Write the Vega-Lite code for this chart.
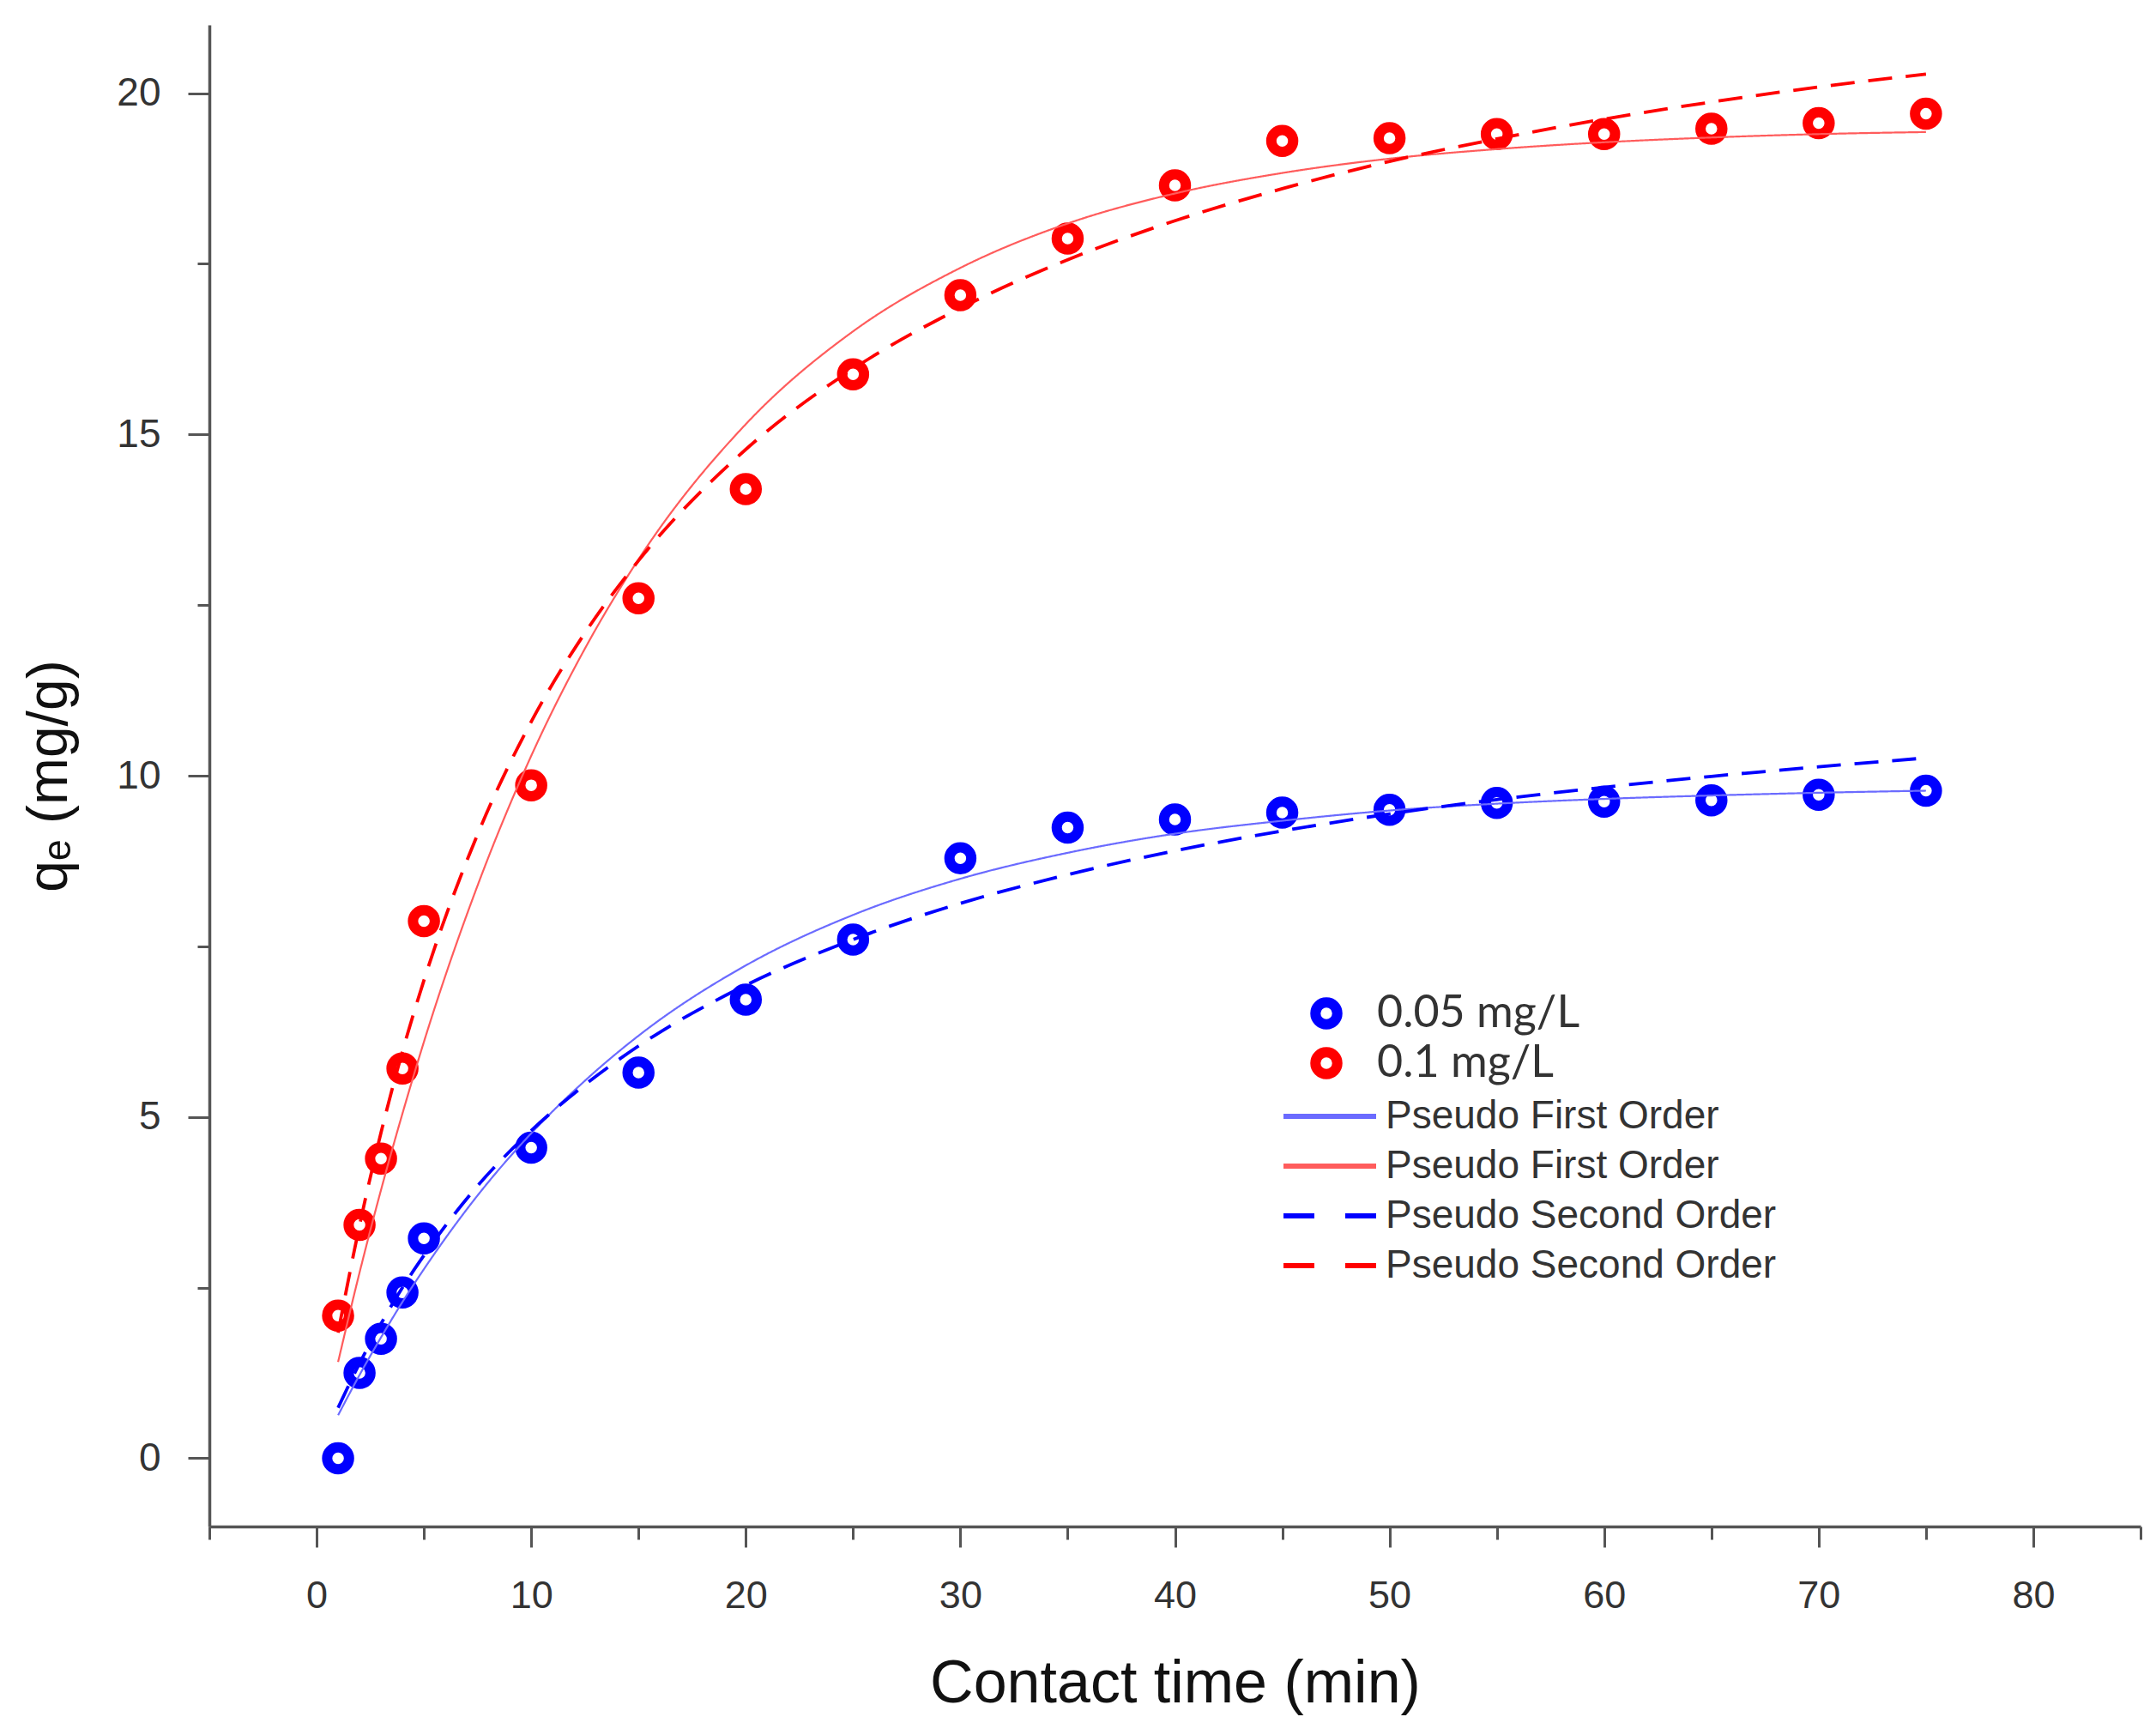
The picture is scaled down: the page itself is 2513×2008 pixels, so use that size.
{
  "$schema": "https://vega.github.io/schema/vega-lite/v6.json",
  "width": 2251,
  "height": 1750,
  "autosize": {"type": "none"},
  "padding": {"left": 244, "top": 29, "right": 18, "bottom": 229},
  "background": "white",
  "config": {
    "view": {"stroke": null},
    "axis": {
      "grid": false,
      "domainColor": "#555555",
      "domainWidth": 3.5,
      "tickColor": "#555555",
      "tickWidth": 3,
      "labelFont": "Liberation Sans",
      "labelColor": "#333333",
      "titleFont": "Liberation Sans",
      "titleColor": "#111111",
      "titleFontWeight": "normal"
    }
  },
  "datasets": {
    "obs": [
      {"t": 1, "q": 0.0, "conc": "0.05 mg/L"},
      {"t": 2, "q": 1.25, "conc": "0.05 mg/L"},
      {"t": 3, "q": 1.75, "conc": "0.05 mg/L"},
      {"t": 4, "q": 2.43, "conc": "0.05 mg/L"},
      {"t": 5, "q": 3.22, "conc": "0.05 mg/L"},
      {"t": 10, "q": 4.55, "conc": "0.05 mg/L"},
      {"t": 15, "q": 5.65, "conc": "0.05 mg/L"},
      {"t": 20, "q": 6.72, "conc": "0.05 mg/L"},
      {"t": 25, "q": 7.6, "conc": "0.05 mg/L"},
      {"t": 30, "q": 8.79, "conc": "0.05 mg/L"},
      {"t": 35, "q": 9.24, "conc": "0.05 mg/L"},
      {"t": 40, "q": 9.36, "conc": "0.05 mg/L"},
      {"t": 45, "q": 9.46, "conc": "0.05 mg/L"},
      {"t": 50, "q": 9.5, "conc": "0.05 mg/L"},
      {"t": 55, "q": 9.6, "conc": "0.05 mg/L"},
      {"t": 60, "q": 9.62, "conc": "0.05 mg/L"},
      {"t": 65, "q": 9.64, "conc": "0.05 mg/L"},
      {"t": 70, "q": 9.72, "conc": "0.05 mg/L"},
      {"t": 75, "q": 9.78, "conc": "0.05 mg/L"},
      {"t": 1, "q": 2.09, "conc": "0.1 mg/L"},
      {"t": 2, "q": 3.42, "conc": "0.1 mg/L"},
      {"t": 3, "q": 4.39, "conc": "0.1 mg/L"},
      {"t": 4, "q": 5.71, "conc": "0.1 mg/L"},
      {"t": 5, "q": 7.87, "conc": "0.1 mg/L"},
      {"t": 10, "q": 9.86, "conc": "0.1 mg/L"},
      {"t": 15, "q": 12.6, "conc": "0.1 mg/L"},
      {"t": 20, "q": 14.2, "conc": "0.1 mg/L"},
      {"t": 25, "q": 15.88, "conc": "0.1 mg/L"},
      {"t": 30, "q": 17.04, "conc": "0.1 mg/L"},
      {"t": 35, "q": 17.87, "conc": "0.1 mg/L"},
      {"t": 40, "q": 18.65, "conc": "0.1 mg/L"},
      {"t": 45, "q": 19.3, "conc": "0.1 mg/L"},
      {"t": 50, "q": 19.34, "conc": "0.1 mg/L"},
      {"t": 55, "q": 19.4, "conc": "0.1 mg/L"},
      {"t": 60, "q": 19.4, "conc": "0.1 mg/L"},
      {"t": 65, "q": 19.48, "conc": "0.1 mg/L"},
      {"t": 70, "q": 19.56, "conc": "0.1 mg/L"},
      {"t": 75, "q": 19.7, "conc": "0.1 mg/L"}
    ],
    "fits": [
      {"t": 1, "q": 0.63, "fit": "Pseudo First Order (0.05 mg/L)"},
      {"t": 2, "q": 1.22, "fit": "Pseudo First Order (0.05 mg/L)"},
      {"t": 3, "q": 1.77, "fit": "Pseudo First Order (0.05 mg/L)"},
      {"t": 4, "q": 2.29, "fit": "Pseudo First Order (0.05 mg/L)"},
      {"t": 5, "q": 2.77, "fit": "Pseudo First Order (0.05 mg/L)"},
      {"t": 7.5, "q": 3.85, "fit": "Pseudo First Order (0.05 mg/L)"},
      {"t": 10, "q": 4.76, "fit": "Pseudo First Order (0.05 mg/L)"},
      {"t": 12.5, "q": 5.53, "fit": "Pseudo First Order (0.05 mg/L)"},
      {"t": 15, "q": 6.19, "fit": "Pseudo First Order (0.05 mg/L)"},
      {"t": 20, "q": 7.22, "fit": "Pseudo First Order (0.05 mg/L)"},
      {"t": 25, "q": 7.96, "fit": "Pseudo First Order (0.05 mg/L)"},
      {"t": 30, "q": 8.49, "fit": "Pseudo First Order (0.05 mg/L)"},
      {"t": 35, "q": 8.87, "fit": "Pseudo First Order (0.05 mg/L)"},
      {"t": 40, "q": 9.15, "fit": "Pseudo First Order (0.05 mg/L)"},
      {"t": 45, "q": 9.34, "fit": "Pseudo First Order (0.05 mg/L)"},
      {"t": 50, "q": 9.49, "fit": "Pseudo First Order (0.05 mg/L)"},
      {"t": 55, "q": 9.59, "fit": "Pseudo First Order (0.05 mg/L)"},
      {"t": 60, "q": 9.66, "fit": "Pseudo First Order (0.05 mg/L)"},
      {"t": 65, "q": 9.71, "fit": "Pseudo First Order (0.05 mg/L)"},
      {"t": 70, "q": 9.75, "fit": "Pseudo First Order (0.05 mg/L)"},
      {"t": 75, "q": 9.78, "fit": "Pseudo First Order (0.05 mg/L)"},
      {"t": 1, "q": 1.41, "fit": "Pseudo First Order (0.1 mg/L)"},
      {"t": 2, "q": 2.72, "fit": "Pseudo First Order (0.1 mg/L)"},
      {"t": 3, "q": 3.93, "fit": "Pseudo First Order (0.1 mg/L)"},
      {"t": 4, "q": 5.05, "fit": "Pseudo First Order (0.1 mg/L)"},
      {"t": 5, "q": 6.1, "fit": "Pseudo First Order (0.1 mg/L)"},
      {"t": 7.5, "q": 8.39, "fit": "Pseudo First Order (0.1 mg/L)"},
      {"t": 10, "q": 10.29, "fit": "Pseudo First Order (0.1 mg/L)"},
      {"t": 12.5, "q": 11.86, "fit": "Pseudo First Order (0.1 mg/L)"},
      {"t": 15, "q": 13.17, "fit": "Pseudo First Order (0.1 mg/L)"},
      {"t": 20, "q": 15.15, "fit": "Pseudo First Order (0.1 mg/L)"},
      {"t": 25, "q": 16.51, "fit": "Pseudo First Order (0.1 mg/L)"},
      {"t": 30, "q": 17.44, "fit": "Pseudo First Order (0.1 mg/L)"},
      {"t": 35, "q": 18.09, "fit": "Pseudo First Order (0.1 mg/L)"},
      {"t": 40, "q": 18.53, "fit": "Pseudo First Order (0.1 mg/L)"},
      {"t": 45, "q": 18.83, "fit": "Pseudo First Order (0.1 mg/L)"},
      {"t": 50, "q": 19.04, "fit": "Pseudo First Order (0.1 mg/L)"},
      {"t": 55, "q": 19.18, "fit": "Pseudo First Order (0.1 mg/L)"},
      {"t": 60, "q": 19.28, "fit": "Pseudo First Order (0.1 mg/L)"},
      {"t": 65, "q": 19.35, "fit": "Pseudo First Order (0.1 mg/L)"},
      {"t": 70, "q": 19.4, "fit": "Pseudo First Order (0.1 mg/L)"},
      {"t": 75, "q": 19.43, "fit": "Pseudo First Order (0.1 mg/L)"},
      {"t": 1, "q": 0.74, "fit": "Pseudo Second Order (0.05 mg/L)"},
      {"t": 2, "q": 1.39, "fit": "Pseudo Second Order (0.05 mg/L)"},
      {"t": 3, "q": 1.97, "fit": "Pseudo Second Order (0.05 mg/L)"},
      {"t": 4, "q": 2.5, "fit": "Pseudo Second Order (0.05 mg/L)"},
      {"t": 5, "q": 2.97, "fit": "Pseudo Second Order (0.05 mg/L)"},
      {"t": 7.5, "q": 3.99, "fit": "Pseudo Second Order (0.05 mg/L)"},
      {"t": 10, "q": 4.8, "fit": "Pseudo Second Order (0.05 mg/L)"},
      {"t": 12.5, "q": 5.47, "fit": "Pseudo Second Order (0.05 mg/L)"},
      {"t": 15, "q": 6.04, "fit": "Pseudo Second Order (0.05 mg/L)"},
      {"t": 20, "q": 6.93, "fit": "Pseudo Second Order (0.05 mg/L)"},
      {"t": 25, "q": 7.6, "fit": "Pseudo Second Order (0.05 mg/L)"},
      {"t": 30, "q": 8.13, "fit": "Pseudo Second Order (0.05 mg/L)"},
      {"t": 35, "q": 8.55, "fit": "Pseudo Second Order (0.05 mg/L)"},
      {"t": 40, "q": 8.9, "fit": "Pseudo Second Order (0.05 mg/L)"},
      {"t": 45, "q": 9.19, "fit": "Pseudo Second Order (0.05 mg/L)"},
      {"t": 50, "q": 9.44, "fit": "Pseudo Second Order (0.05 mg/L)"},
      {"t": 55, "q": 9.65, "fit": "Pseudo Second Order (0.05 mg/L)"},
      {"t": 60, "q": 9.83, "fit": "Pseudo Second Order (0.05 mg/L)"},
      {"t": 65, "q": 9.99, "fit": "Pseudo Second Order (0.05 mg/L)"},
      {"t": 70, "q": 10.13, "fit": "Pseudo Second Order (0.05 mg/L)"},
      {"t": 75, "q": 10.26, "fit": "Pseudo Second Order (0.05 mg/L)"},
      {"t": 1, "q": 1.84, "fit": "Pseudo Second Order (0.1 mg/L)"},
      {"t": 2, "q": 3.41, "fit": "Pseudo Second Order (0.1 mg/L)"},
      {"t": 3, "q": 4.77, "fit": "Pseudo Second Order (0.1 mg/L)"},
      {"t": 4, "q": 5.96, "fit": "Pseudo Second Order (0.1 mg/L)"},
      {"t": 5, "q": 7.0, "fit": "Pseudo Second Order (0.1 mg/L)"},
      {"t": 7.5, "q": 9.14, "fit": "Pseudo Second Order (0.1 mg/L)"},
      {"t": 10, "q": 10.79, "fit": "Pseudo Second Order (0.1 mg/L)"},
      {"t": 12.5, "q": 12.09, "fit": "Pseudo Second Order (0.1 mg/L)"},
      {"t": 15, "q": 13.15, "fit": "Pseudo Second Order (0.1 mg/L)"},
      {"t": 20, "q": 14.78, "fit": "Pseudo Second Order (0.1 mg/L)"},
      {"t": 25, "q": 15.96, "fit": "Pseudo Second Order (0.1 mg/L)"},
      {"t": 30, "q": 16.85, "fit": "Pseudo Second Order (0.1 mg/L)"},
      {"t": 35, "q": 17.56, "fit": "Pseudo Second Order (0.1 mg/L)"},
      {"t": 40, "q": 18.13, "fit": "Pseudo Second Order (0.1 mg/L)"},
      {"t": 45, "q": 18.6, "fit": "Pseudo Second Order (0.1 mg/L)"},
      {"t": 50, "q": 19.0, "fit": "Pseudo Second Order (0.1 mg/L)"},
      {"t": 55, "q": 19.33, "fit": "Pseudo Second Order (0.1 mg/L)"},
      {"t": 60, "q": 19.62, "fit": "Pseudo Second Order (0.1 mg/L)"},
      {"t": 65, "q": 19.87, "fit": "Pseudo Second Order (0.1 mg/L)"},
      {"t": 70, "q": 20.09, "fit": "Pseudo Second Order (0.1 mg/L)"},
      {"t": 75, "q": 20.28, "fit": "Pseudo Second Order (0.1 mg/L)"}
    ]
  },
  "layer": [
    {
      "data": {"name": "obs"},
      "mark": {"type": "point", "shape": "circle", "filled": false, "size": 650, "strokeWidth": 12, "opacity": 1},
      "encoding": {
        "x": {
          "field": "t", "type": "quantitative",
          "scale": {"domain": [-5, 85], "nice": false, "zero": false},
          "axis": {
            "orient": "bottom",
            "values": [0, 10, 20, 30, 40, 50, 60, 70, 80],
            "tickSize": 24,
            "labelFontSize": 45,
            "labelPadding": 34,
            "title": "Contact time (min)",
            "titleFontSize": 70,
            "titlePadding": 46
          }
        },
        "y": {
          "field": "q", "type": "quantitative",
          "scale": {"domain": [-1, 21], "nice": false, "zero": false},
          "axis": {
            "orient": "left",
            "values": [0, 5, 10, 15, 20],
            "tickSize": 25,
            "labelFontSize": 46,
            "labelPadding": 32,
            "title": "qₑ (mg/g)",
            "titleFontSize": 66,
            "titlePadding": 44
          }
        },
        "color": {
          "field": "conc", "type": "nominal",
          "scale": {"domain": ["0.05 mg/L", "0.1 mg/L"], "range": ["#0000ff", "#ff0000"]},
          "legend": {
            "title": null,
            "orient": "none",
            "legendX": 1276,
            "legendY": 1123,
            "padding": 0,
            "symbolType": "circle",
            "symbolSize": 650,
            "symbolStrokeWidth": 12,
            "symbolFillColor": "transparent",
            "labelFont": "Lato",
            "labelFontSize": 52,
            "labelColor": "#333333",
            "labelOffset": 33,
            "labelLimit": 0,
            "clipHeight": 58,
            "rowPadding": 0
          }
        }
      }
    },
    {
      "data": {"name": "fits"},
      "mark": {"type": "line", "interpolate": "monotone"},
      "encoding": {
        "x": {
          "field": "t", "type": "quantitative",
          "axis": {
            "orient": "bottom",
            "values": [-5, 5, 15, 25, 35, 45, 55, 65, 75, 85],
            "tickSize": 15,
            "labels": false,
            "domain": false,
            "title": null
          }
        },
        "y": {
          "field": "q", "type": "quantitative",
          "axis": {
            "orient": "left",
            "values": [2.5, 7.5, 12.5, 17.5],
            "tickSize": 14,
            "labels": false,
            "domain": false,
            "title": null
          }
        },
        "color": {
          "field": "fit", "type": "nominal",
          "scale": {
            "domain": [
              "Pseudo First Order (0.05 mg/L)",
              "Pseudo First Order (0.1 mg/L)",
              "Pseudo Second Order (0.05 mg/L)",
              "Pseudo Second Order (0.1 mg/L)"
            ],
            "range": ["#6b6bff", "#ff5c5c", "#0000ff", "#ff0000"]
          },
          "legend": {
            "title": null,
            "orient": "none",
            "legendX": 1283,
            "legendY": 1249,
            "padding": 0,
            "symbolType": "M-6,0H6",
            "symbolSize": 324,
            "symbolStrokeWidth": 6,
            "labelExpr": "split(datum.label, ' (')[0]",
            "labelFont": "Liberation Sans",
            "labelFontSize": 46,
            "labelColor": "#333333",
            "labelOffset": 42,
            "labelLimit": 0,
            "rowPadding": 12,
            "encode": {
              "symbols": {
                "update": {
                  "strokeDash": {"signal": "indexof(datum.value, 'Second') >= 0 ? [36, 36] : [1, 0]"}
                }
              }
            }
          }
        },
        "strokeWidth": {
          "condition": {"test": "indexof(datum.fit, 'Second') >= 0", "value": 3.8},
          "value": 2.2
        },
        "strokeDash": {
          "condition": {"test": "indexof(datum.fit, 'Second') >= 0", "value": [28, 16]},
          "value": [1, 0]
        }
      }
    }
  ],
  "resolve": {
    "scale": {"color": "independent"},
    "axis": {"x": "independent", "y": "independent"}
  }
}
